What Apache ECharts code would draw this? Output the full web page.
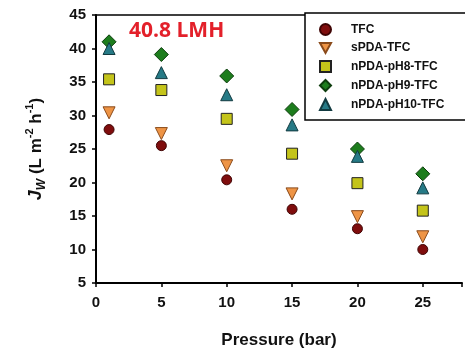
<!DOCTYPE html>
<html>
<head>
<meta charset="utf-8">
<script src="https://cdn.jsdelivr.net/npm/echarts@6/dist/echarts.min.js"></script>
<style>
  html, body { margin: 0; padding: 0; background: #fff; }
  #main { width: 465px; height: 356px; }
</style>
</head>
<body>
<div id="main"></div>
<script>
var pressure = [1, 5, 10, 15, 20, 25];
var seriesNames = ['TFC', 'sPDA-TFC', 'nPDA-pH8-TFC', 'nPDA-pH9-TFC', 'nPDA-pH10-TFC'];
var tfc = [27.9, 25.5, 20.4, 16.0, 13.1, 10.0];
var spda = [30.4, 27.3, 22.5, 18.3, 14.9, 11.9];
var ph8 = [35.4, 33.8, 29.5, 24.3, 19.9, 15.8];
var ph9 = [41.0, 39.1, 35.9, 30.9, 25.0, 21.3];
var ph10 = [40.0, 36.4, 33.1, 28.6, 23.9, 19.2];

var chartDom = document.getElementById('main');
var myChart = echarts.init(chartDom);
var font = 'Liberation Sans, Arial, sans-serif';
var downTri = 'path://M0,0 L10,0 L5,9 Z';

function pts(vals) {
  return pressure.map(function (p, i) { return [p, vals[i]]; });
}

function mk(name, vals, symbol, size, fill, border) {
  return {
    name: name,
    type: 'scatter',
    data: pts(vals),
    symbol: symbol,
    symbolSize: size,
    itemStyle: { color: fill, borderColor: border, borderWidth: 1, opacity: 1 },
    z: 3
  };
}

var option = {
  animation: false,
  grid: { left: 96, top: 15, right: 3, bottom: 73 },
  title: {
    text: '40.8 LMH',
    left: 124,
    top: 16,
    textStyle: { color: '#e3202a', fontSize: 21, fontWeight: 'bold', fontFamily: 'Open Sans, Liberation Sans, sans-serif' }
  },
  legend: {
    orient: 'vertical',
    left: 305,
    top: 13,
    padding: [10, 40, 9, 14],
    itemWidth: 11,
    itemHeight: 11,
    itemGap: 6,
    borderColor: '#000',
    borderWidth: 1.5,
    borderRadius: 0,
    backgroundColor: '#fff',
    z: 10,
    data: seriesNames,
    textStyle: { fontFamily: font, fontWeight: 'bold', fontSize: 12, color: '#111', padding: [0, 0, 0, 15] }
  },
  xAxis: [{
    type: 'value',
    min: 0,
    max: 28,
    interval: 5,
    name: 'Pressure (bar)',
    nameLocation: 'middle',
    nameGap: 49,
    nameTextStyle: { fontFamily: font, fontWeight: 'bold', fontSize: 17, color: '#111' },
    splitLine: { show: false },
    axisLine: { lineStyle: { color: '#000', width: 2 } },
    axisTick: { inside: false, length: 4, lineStyle: { color: '#000', width: 1.5 } },
    axisLabel: { fontFamily: font, fontWeight: 'bold', fontSize: 15, color: '#111', margin: 12,
      formatter: function (v) { return v <= 25 ? v : ''; } }
  }, {
    type: 'value',
    position: 'top',
    min: 0,
    max: 28,
    axisLine: { show: true, onZero: false, lineStyle: { color: '#000', width: 1.5 } },
    axisTick: { show: false },
    axisLabel: { show: false },
    splitLine: { show: false }
  }],
  yAxis: {
    type: 'value',
    min: 5,
    max: 45,
    interval: 5,
    name: '{j|J}{w|W}{t| (L m}{s|-2}{t| h}{s|-1}{t|)}',
    nameLocation: 'middle',
    nameRotate: 90,
    nameGap: 48,
    nameTextStyle: {
      color: '#111',
      rich: {
        j: { fontFamily: font, fontWeight: 'bold', fontStyle: 'italic', fontSize: 18, lineHeight: 24, verticalAlign: 'middle' },
        w: { fontFamily: font, fontWeight: 'bold', fontStyle: 'italic', fontSize: 12, lineHeight: 14, verticalAlign: 'bottom' },
        t: { fontFamily: font, fontWeight: 'bold', fontSize: 17, lineHeight: 24, verticalAlign: 'middle' },
        s: { fontFamily: font, fontWeight: 'bold', fontSize: 11, lineHeight: 12, verticalAlign: 'top' }
      }
    },
    splitLine: { show: false },
    axisLine: { show: true, lineStyle: { color: '#000', width: 2 } },
    axisTick: { show: true, inside: false, length: 4, lineStyle: { color: '#000', width: 1.5 } },
    axisLabel: { fontFamily: font, fontWeight: 'bold', fontSize: 15, color: '#111', margin: 10 }
  },
  series: [
    mk('TFC', tfc, 'circle', 10, '#7f0d0d', '#3f0404'),
    mk('sPDA-TFC', spda, downTri, 12, '#ee9445', '#8a4a1a'),
    mk('nPDA-pH8-TFC', ph8, 'rect', 11, '#c4c41a', '#222'),
    mk('nPDA-pH9-TFC', ph9, 'diamond', 14, '#1d7d1d', '#0d3d0d'),
    mk('nPDA-pH10-TFC', ph10, 'triangle', 12, '#267a86', '#123a40')
  ]
};

myChart.setOption(option);
</script>
</body>
</html>
